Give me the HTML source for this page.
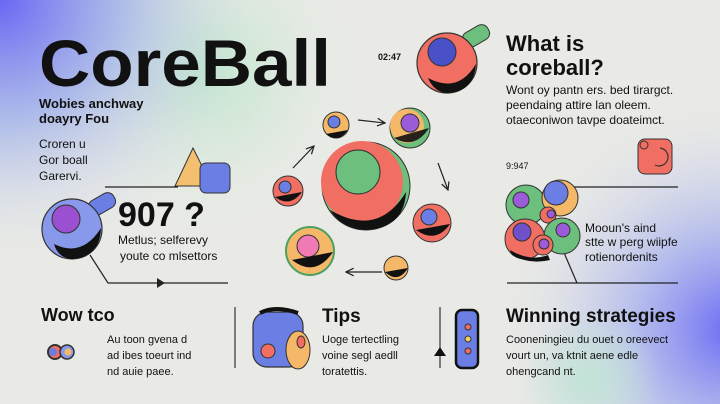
<!DOCTYPE html>
<html><head><meta charset="utf-8"><style>
html,body{margin:0;padding:0;width:720px;height:404px;overflow:hidden}
body{background:#e9eae6;font-family:"Liberation Sans",sans-serif}
svg{display:block}
text{font-family:"Liberation Sans",sans-serif;fill:#111}
</style></head><body>
<svg width="720" height="404" viewBox="0 0 720 404">
<defs>
<radialGradient id="g1" cx="0" cy="0" r="270" gradientUnits="userSpaceOnUse"><stop offset="0" stop-color="#6a66f4"/><stop offset="0.45" stop-color="#a4b4ea" stop-opacity="0.85"/><stop offset="1" stop-color="#e9eae6" stop-opacity="0"/></radialGradient>
<radialGradient id="g2" cx="200" cy="70" r="170" gradientUnits="userSpaceOnUse"><stop offset="0" stop-color="#b8e6c8"/><stop offset="1" stop-color="#e9eae6" stop-opacity="0"/></radialGradient>
<radialGradient id="g3" cx="730" cy="330" r="240" gradientUnits="userSpaceOnUse"><stop offset="0" stop-color="#6e6cf4"/><stop offset="0.4" stop-color="#a9b2ee" stop-opacity="0.8"/><stop offset="1" stop-color="#e9eae6" stop-opacity="0"/></radialGradient>
<radialGradient id="g4" cx="590" cy="380" r="70" gradientUnits="userSpaceOnUse"><stop offset="0" stop-color="#c2e4d6"/><stop offset="1" stop-color="#c2e4d6" stop-opacity="0"/></radialGradient>
<marker id="ah" viewBox="0 0 10 10" refX="9" refY="5" markerWidth="8" markerHeight="8" orient="auto"><path d="M1 1L9 5L1 9" fill="none" stroke="#222" stroke-width="1.3"/></marker>
</defs>
<rect width="720" height="404" fill="#e9eae6"/>
<rect width="720" height="404" fill="url(#g2)"/>
<rect width="720" height="404" fill="url(#g1)"/>
<rect width="720" height="404" fill="url(#g3)"/>
<rect width="720" height="404" fill="url(#g4)"/>

<text x="39" y="86" font-size="66" font-weight="bold" textLength="292" lengthAdjust="spacingAndGlyphs">CoreBall</text>
<text x="39" y="108" font-size="13" font-weight="bold">Wobies anchway</text>
<text x="39" y="123" font-size="13" font-weight="bold">doayry Fou</text>
<text x="39" y="148" font-size="12">Croren u</text>
<text x="39" y="164" font-size="12">Gor boall</text>
<text x="39" y="180" font-size="12">Garervi.</text>

<polygon points="193,148 175,186 212,186" fill="#f4c070" stroke="#333" stroke-width="1"/>
<rect x="200" y="163" width="30" height="30" rx="6" fill="#6a7ee4" stroke="#333" stroke-width="1"/>
<path d="M105 187H178" stroke="#222" stroke-width="1.2" fill="none"/>
<path d="M90 255L108 283H228" stroke="#222" stroke-width="1.2" fill="none"/>
<polygon points="157,278 165,283 157,288" fill="#222"/>
<rect x="88" y="196" width="28" height="16" rx="7" transform="rotate(-30 102 204)" fill="#6a7ee4" stroke="#333" stroke-width="1"/>
<circle cx="72" cy="229" r="30" fill="#8898ea" stroke="#333" stroke-width="1.2"/>
<path d="M54 244Q82 258 101 228Q100 257 72 259Q58 258 54 244Z" fill="#111"/>
<circle cx="66" cy="219" r="14" fill="#9a50d0" stroke="#333" stroke-width="1"/>
<text x="118" y="226" font-size="34" font-weight="bold">907 ?</text>
<text x="118" y="244" font-size="12">Metlus; selferevy</text>
<text x="120" y="260" font-size="12">youte co mlsettors</text>

<!-- center -->
<circle cx="366" cy="186" r="44" fill="#6cbf7c" stroke="#333" stroke-width="1"/>
<circle cx="362" cy="182" r="41" fill="#f06e62"/>
<path d="M330 210Q378 238 406 192Q404 228 366 230Q342 229 330 210Z" fill="#111"/>
<circle cx="358" cy="172" r="22" fill="#6cbf7c" stroke="#333" stroke-width="1"/>
<g stroke="#333" stroke-width="1">
<circle cx="336" cy="125" r="13" fill="#f4b868"/><circle cx="334" cy="122" r="6" fill="#6a7ee4"/>
<circle cx="410" cy="128" r="20" fill="#6cbf7c"/><circle cx="407" cy="126" r="17" fill="#f4b868" stroke="none"/><circle cx="410" cy="123" r="9" fill="#9a5cd8"/>
<circle cx="288" cy="191" r="15" fill="#f06e62"/><circle cx="285" cy="187" r="6" fill="#6a7ee4"/>
<circle cx="310" cy="251" r="24" fill="#f4b868" stroke="#4aa060" stroke-width="2"/><circle cx="308" cy="246" r="11" fill="#f07ab4"/>
<circle cx="432" cy="223" r="19" fill="#f06e62"/><circle cx="429" cy="217" r="8" fill="#6a7ee4"/>
<circle cx="396" cy="268" r="12" fill="#f4b868"/>
</g>
<path d="M326 134Q338 144 348 130" fill="#111"/>
<path d="M394 138Q415 150 429 128" fill="#111" opacity="0.9"/>
<path d="M275 197Q290 208 302 192" fill="#111"/>
<path d="M292 260Q315 278 333 252" fill="#111"/>
<path d="M416 230Q436 244 450 224" fill="#111"/>
<path d="M385 272Q398 284 408 268" fill="#111"/>
<g stroke="#222" stroke-width="1.2" fill="none" marker-end="url(#ah)">
<path d="M293 168L314 146"/><path d="M358 120L385 123"/><path d="M438 163L448 190"/><path d="M382 272L346 272"/>
</g>

<!-- top ball -->
<rect x="462" y="28" width="28" height="16" rx="7" transform="rotate(-30 476 36)" fill="#6cbf7c" stroke="#333" stroke-width="1"/>
<circle cx="447" cy="63" r="30" fill="#f06e62" stroke="#333" stroke-width="1.2"/>
<path d="M428 78Q458 94 476 64Q474 92 447 93Q434 92 428 78Z" fill="#111"/>
<circle cx="442" cy="52" r="14" fill="#4a50c8" stroke="#333" stroke-width="1"/>
<text x="378" y="60" font-size="9" font-weight="bold">02:47</text>

<text x="506" y="51" font-size="22" font-weight="bold">What is</text>
<text x="506" y="75" font-size="22" font-weight="bold">coreball?</text>
<text x="506" y="94" font-size="12">Wont oy pantn ers. bed tirargct.</text>
<text x="506" y="109" font-size="12">peendaing attire lan oleem.</text>
<text x="506" y="124" font-size="12">otaeconiwon tavpe doateimct.</text>
<rect x="638" y="139" width="34" height="35" rx="7" fill="#f06e62" stroke="#333" stroke-width="1"/>
<circle cx="644" cy="145" r="4" fill="#f06e62" stroke="#333"/>
<path d="M660 148A9 9 0 1 1 655 165" fill="none" stroke="#333" stroke-width="1.2"/>
<text x="506" y="169" font-size="9">9:947</text>

<!-- cluster -->
<path d="M572 187H678M507 283H678M562 248L577 283" stroke="#222" stroke-width="1.2" fill="none"/>
<g stroke="#333" stroke-width="1">
<circle cx="526" cy="205" r="20" fill="#6cbf7c"/><circle cx="521" cy="200" r="8" fill="#9a5cd8"/>
<circle cx="560" cy="198" r="18" fill="#f4b868"/><circle cx="556" cy="193" r="12" fill="#6a7ee4"/>
<circle cx="548" cy="215" r="8" fill="#f06e62"/><circle cx="551" cy="214" r="4" fill="#9a5cd8"/>
<circle cx="562" cy="236" r="18" fill="#6cbf7c"/><circle cx="563" cy="230" r="7" fill="#9a5cd8"/>
<circle cx="525" cy="239" r="20" fill="#f06e62"/><circle cx="522" cy="232" r="9" fill="#7050c8"/>
<circle cx="543" cy="245" r="10" fill="#f06e62"/><circle cx="544" cy="244" r="5" fill="#9a5cd8"/>
</g>
<path d="M510 250Q530 262 548 255L550 260Q530 265 512 255Z" fill="#111"/>
<text x="585" y="232" font-size="12">Mooun's aind</text>
<text x="585" y="246" font-size="12">stte w perg wiipfe</text>
<text x="585" y="261" font-size="12">rotienordenits</text>

<!-- bottom -->
<text x="41" y="321" font-size="18" font-weight="bold">Wow tco</text>
<circle cx="55" cy="352" r="7" fill="#f06e62" stroke="#333" stroke-width="2"/>
<circle cx="53" cy="352" r="4" fill="#6a7ee4"/>
<circle cx="67" cy="352" r="7" fill="#8898ea" stroke="#333" stroke-width="1.5"/>
<circle cx="68" cy="352" r="3.5" fill="#f4b868"/>
<text x="107" y="343" font-size="11">Au toon gvena d</text>
<text x="107" y="359" font-size="11">ad ibes toeurt ind</text>
<text x="107" y="375" font-size="11">nd auie paee.</text>
<path d="M235 307V368" stroke="#333" stroke-width="1.2"/>
<rect x="253" y="312" width="50" height="55" rx="14" fill="#6a7ee4" stroke="#333" stroke-width="1.2"/>
<path d="M260 313Q275 305 298 313" stroke="#111" stroke-width="4" fill="none"/>
<circle cx="268" cy="351" r="7" fill="#f06e62" stroke="#333"/>
<ellipse cx="298" cy="350" rx="12" ry="19" fill="#f4b868" stroke="#333"/>
<ellipse cx="301" cy="342" rx="4" ry="6" fill="#f06e62" stroke="#333"/>
<text x="322" y="322" font-size="19" font-weight="bold">Tips</text>
<text x="322" y="343" font-size="11">Uoge tertectling</text>
<text x="322" y="359" font-size="11">voine segl aedll</text>
<text x="322" y="375" font-size="11">toratettis.</text>
<path d="M440 307V368" stroke="#333" stroke-width="1.2"/>
<polygon points="434,356 440,347 446,356" fill="#111"/>
<rect x="456" y="310" width="22" height="58" rx="6" fill="#6a7ee4" stroke="#111" stroke-width="2.5"/>
<circle cx="468" cy="327" r="3" fill="#f06e62" stroke="#333"/>
<circle cx="468" cy="339" r="3" fill="#f4d060" stroke="#333"/>
<circle cx="468" cy="351" r="3" fill="#f06e62" stroke="#333"/>
<text x="506" y="322" font-size="19" font-weight="bold">Winning strategies</text>
<text x="506" y="343" font-size="11">Cooneningieu du ouet o oreevect</text>
<text x="506" y="359" font-size="11">vourt un, va ktnit aene edle</text>
<text x="506" y="375" font-size="11">ohengcand nt.</text>
</svg>
</body></html>
